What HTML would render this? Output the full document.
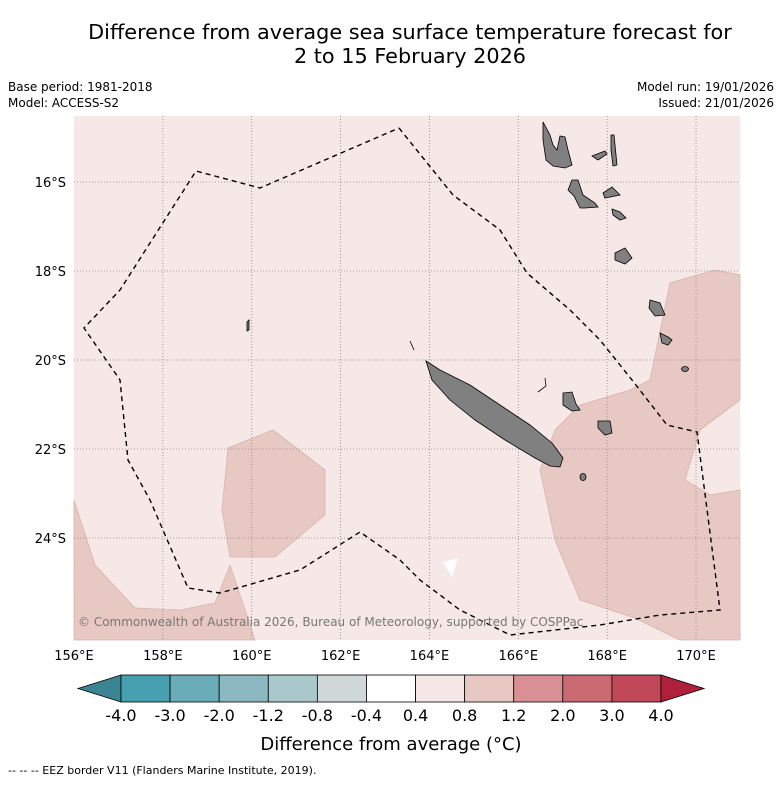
<!DOCTYPE html>
<html><head><meta charset="utf-8"><style>
body{margin:0;background:#fff;}
svg text{font-family:"DejaVu Sans","Liberation Sans",sans-serif;}
</style></head><body>
<svg id="c" width="781" height="781" viewBox="0 0 781 781" xmlns="http://www.w3.org/2000/svg">
<text x="410" y="39" font-size="20.8" text-anchor="middle">Difference from average sea surface temperature forecast for</text>
<text x="410" y="63" font-size="20.8" text-anchor="middle">2 to 15 February 2026</text>
<text x="8" y="91" font-size="12">Base period: 1981-2018</text>
<text x="8" y="107" font-size="12">Model: ACCESS-S2</text>
<text x="774" y="91" font-size="12" text-anchor="end">Model run: 19/01/2026</text>
<text x="774" y="107" font-size="12" text-anchor="end">Issued: 21/01/2026</text>
<g>
<rect x="74" y="116" width="666" height="524" fill="#f5e8e6"/>
<g fill="#e8c8c2" stroke="#d8b4ae" stroke-width="0.8">
<polygon points="74,500 95,565 135,608 180,610 215,603 230,565 255,640 74,640"/>
<polygon points="228,448 273,430 325,470 325,515 275,557 230,557 222,510"/>
<polygon points="540,470 555,430 580,405 630,390 650,380 670,283 715,270 740,275 740,400 700,430 685,480 710,495 740,490 740,640 680,640 635,618 580,600 555,540"/>
</g>
<polygon points="443,562 458,558 452,577" fill="#fff"/>
<g id="grid" stroke="#888" stroke-width="0.8" stroke-dasharray="1,2"></g>
<g fill="#808080" stroke="#000" stroke-width="0.8">
<polygon points="426,361 440,370 470,385 500,405 530,425 552,443 563,458 560,467 550,466 535,458 505,440 475,420 450,400 432,380"/>
<polygon points="543,122 550,135 553,145 557,150 560,136 565,137 568,150 572,165 565,168 553,166 546,160 543,140"/>
<polygon points="572,180 578,180 583,195 595,203 598,207 585,208 580,208 574,196 568,190"/>
<polygon points="592,156 605,151 607,154 598,160"/>
<polygon points="611,135 614,135 617,165 613,166 611,150"/>
<polygon points="603,193 612,187 620,195 605,198"/>
<polygon points="612,209 620,212 626,218 620,220 613,215"/>
<polygon points="615,253 625,248 632,258 625,264 615,260"/>
<polygon points="563,393 572,392 576,404 580,410 572,411 563,405"/>
<polygon points="598,421 610,421 612,433 605,435 598,428"/>
<polygon points="650,300 660,303 665,315 655,316 649,308"/>
<polygon points="660,333 668,337 672,340 668,345 662,343"/>
<ellipse cx="685" cy="369" rx="3.5" ry="2.5"/>
<ellipse cx="583" cy="477" rx="3" ry="3.5"/>
<polygon points="247,322 249,320 249,330 247,331"/>
<path d="M545,378 L546,386 L538,392" fill="none"/>
<path d="M410,341 L414,350" fill="none"/>
</g>
<polyline fill="none" stroke="#000" stroke-width="1.4" stroke-dasharray="5,4" points="399,128 453,195 500,230 527,273 570,310 600,340 632,380 667,425 697,432 720,610 660,615 600,625 510,635 460,610 420,580 400,560 360,532 300,570 220,593 188,588 150,500 128,460 120,380 84,328 120,290 196,171 260,188 399,128"/>
<text x="78" y="626" font-size="12" fill="#777">© Commonwealth of Australia 2026, Bureau of Meteorology, supported by COSPPac</text>
</g>
<g id="axes" font-size="13"></g>
<g id="cbar"></g>
<text x="391" y="750" font-size="18" text-anchor="middle">Difference from average (°C)</text>
<text x="8" y="774" font-size="11">--  --  -- EEZ border V11 (Flanders Marine Institute, 2019).</text>
</svg>
<script>
const lonTicks=[156,158,160,162,164,166,168,170];
const latTicks=[16,18,20,22,24];
const cbarLabels=["-4.0","-3.0","-2.0","-1.2","-0.8","-0.4","0.4","0.8","1.2","2.0","3.0","4.0"];
const cbarColors=["#46a0b0","#6aadb9","#8cb8c2","#a9c8cc","#d0d8d8","#ffffff","#f5e8e6","#e8c8c2","#d89096","#cc6a74","#c04858"];
const ns="http://www.w3.org/2000/svg";
const xLon=l=>74+(l-156)*44.43;
const yLat=l=>182+(l-16)*44.5;
function mk(t,a,p){const e=document.createElementNS(ns,t);for(const k in a)e.setAttribute(k,a[k]);p.appendChild(e);return e;}
const grid=document.getElementById('grid'),axes=document.getElementById('axes'),cb=document.getElementById('cbar');
lonTicks.forEach(l=>{const x=xLon(l);
 if(l>156){const g=mk('line',{x1:x,x2:x,y1:116,y2:640},grid);
 
 }
 const t=mk('text',{x:x,y:660,'text-anchor':'middle'},axes);t.textContent=l+'°E';
 
 });
latTicks.forEach(l=>{const y=yLat(l);
 const g=mk('line',{x1:74,x2:740,y1:y,y2:y},grid);
 
 
 const t=mk('text',{x:66,y:y+5,'text-anchor':'end'},axes);t.textContent=l+'°S';
 
 });
const x0=121,w=540/cbarColors.length,y0=675,h=27;
const le=mk('polygon',{points:`78,${y0+h/2} ${x0},${y0} ${x0},${y0+h}`,fill:'#3a8591',stroke:'#000','stroke-width':0.8},cb);


cbarColors.forEach((c,i)=>{const r=mk('rect',{x:x0+i*w,y:y0,width:w,height:h,fill:c,stroke:'#000','stroke-width':0.8},cb);
 
 });
const xe=x0+cbarColors.length*w;
const re=mk('polygon',{points:`${xe},${y0} ${xe+43},${y0+h/2} ${xe},${y0+h}`,fill:'#b0203a',stroke:'#000','stroke-width':0.8},cb);


cbarLabels.forEach((s,i)=>{const t=mk('text',{x:x0+i*w,y:721,'text-anchor':'middle','font-size':16},cb);t.textContent=s;
 
 });
</script>
</body></html>
